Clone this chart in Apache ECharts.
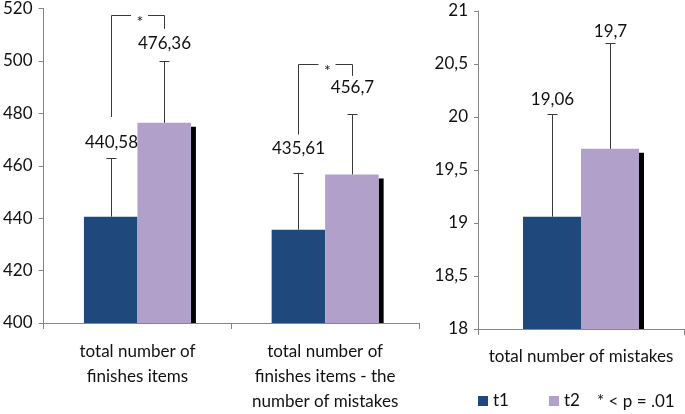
<!DOCTYPE html>
<html>
<head>
<meta charset="utf-8">
<script src="https://cdn.jsdelivr.net/npm/echarts@6/dist/echarts.min.js"></script>
<style>
html,body{margin:0;padding:0;background:#fff;}
#chart{width:685px;height:414px;}
</style>
</head>
<body>
<div id="chart"></div>
<script>
// ---------- data ----------
const categoriesLeft = ['total number of\nfinishes items', 'total number of\nfinishes items - the\nnumber of mistakes'];
const t1Left = [440.58, 435.61];
const t2Left = [476.36, 456.7];
const t1LeftErr = [22.3, 21.5];
const t2LeftErr = [23.7, 23.0];
const bracketTopLeft = [517.5, 498.9];
const bracketT1EndLeft = [478.6, 471.9];
const bracketT2EndLeft = [512.2, 494.3];

const categoriesRight = ['total number of mistakes'];
const t1Right = [19.06];
const t2Right = [19.7];
const t1RightErr = [0.97];
const t2RightErr = [1.0];

const leftTicks = [400, 420, 440, 460, 480, 500, 520];
const rightTicks = [18, 18.5, 19, 19.5, 20, 20.5, 21];
const seriesNames = ['t1', 't2'];
const noteText = '* < p = .01';

// ---------- styles ----------
const FONT = 'Lato, "Open Sans", sans-serif';
const FS = 17;
const C1 = '#1F497D';
const C2 = '#B1A0C9';
const AX = '#868686';
const BW_L = 53.5, BW_R = 58;
const labelGapLeft = [[16, 17], [25, 27]];
const labelGapRight = [[14, 11]];

const fmt = v => String(v).replace('.', ',');
const px = v => Math.round(v) + 0.5;

function errRender(barW) {
  return function (params, api) {
    const idx = api.value(0), mean = api.value(1), err = api.value(2), side = api.value(3), gap = api.value(4);
    const base = api.coord([idx, mean]);
    const top = api.coord([idx, mean + err]);
    const x = px(base[0] + side * barW / 2);
    const yt = px(top[1]);
    return {
      type: 'group',
      children: [
        {type: 'line', shape: {x1: x, y1: base[1], x2: x, y2: yt}, style: {stroke: '#3a3a3a', lineWidth: 1}},
        {type: 'line', shape: {x1: x - 5, y1: yt, x2: x + 5, y2: yt}, style: {stroke: '#3a3a3a', lineWidth: 1}},
        {type: 'text', x: x, y: top[1] - gap, style: {text: fmt(mean), fill: '#111', fontSize: FS, fontFamily: FONT, align: 'center', verticalAlign: 'middle'}}
      ]
    };
  };
}
function shadowRender(barW, yMin) {
  return function (params, api) {
    const idx = api.value(0), val = api.value(1);
    const p = api.coord([idx, val]);
    const b = api.coord([idx, yMin]);
    return {type: 'rect', shape: {x: p[0] + barW, y: p[1] + 4, width: 5, height: b[1] - p[1] - 4}, style: {fill: '#000'}};
  };
}
function bracketRender(barW) {
  return function (params, api) {
    const idx = api.value(0);
    const c = api.coord([idx, api.value(1)]);
    const xL = px(c[0] - barW / 2), xR = px(c[0] + barW / 2);
    const yT = px(c[1]);
    const yL = api.coord([idx, api.value(2)])[1];
    const yR = api.coord([idx, api.value(3)])[1];
    const mid = (xL + xR) / 2 + 2;
    const st = {stroke: '#3a3a3a', lineWidth: 1, fill: null};
    return {
      type: 'group',
      children: [
        {type: 'polyline', shape: {points: [[xL, yL], [xL, yT], [mid - 9, yT]]}, style: st},
        {type: 'polyline', shape: {points: [[mid + 8, yT], [xR, yT], [xR, yR]]}, style: st},
        {type: 'text', x: mid, y: yT + 6, style: {text: '*', fill: '#111', fontSize: 16, fontFamily: FONT, align: 'center', verticalAlign: 'middle'}}
      ]
    };
  };
}

function errData(cats, means, errs, side, gaps) {
  return cats.map((c, i) => [i, means[i], errs[i], side, gaps[i][side < 0 ? 0 : 1]]);
}

const axisText = {color: '#111', fontSize: FS, fontFamily: FONT};

const option = {
  animation: false,
  backgroundColor: '#fff',
  legend: {
    data: seriesNames,
    left: 478, top: 390, padding: 0,
    icon: 'rect', itemWidth: 10, itemHeight: 10, itemGap: 40,
    textStyle: {color: '#111', fontSize: FS, fontFamily: FONT, lineHeight: 22}
  },
  graphic: [{type: 'text', left: 597, top: 393, style: {text: noteText, fill: '#111', fontSize: FS, fontFamily: FONT}}],
  grid: [
    {left: 43, top: 6, width: 376, height: 322},
    {left: 478, top: 11, width: 206, height: 318}
  ],
  xAxis: [
    {gridIndex: 0, type: 'category', data: categoriesLeft,
     axisLine: {lineStyle: {color: AX}}, axisTick: {show: true, length: 6, lineStyle: {color: AX}},
     axisLabel: Object.assign({margin: 16, lineHeight: 25, interval: 0}, axisText)},
    {gridIndex: 1, type: 'category', data: categoriesRight,
     axisLine: {lineStyle: {color: AX}}, axisTick: {show: true, length: 6, lineStyle: {color: AX}},
     axisLabel: Object.assign({margin: 15, lineHeight: 25, interval: 0}, axisText)}
  ],
  yAxis: [
    {gridIndex: 0, type: 'value', min: leftTicks[0], max: leftTicks[leftTicks.length - 1], interval: leftTicks[1] - leftTicks[0],
     axisLine: {show: true, lineStyle: {color: AX}}, axisTick: {show: true, length: 5, lineStyle: {color: AX}},
     splitLine: {show: false}, axisLabel: Object.assign({margin: 11, formatter: v => fmt(v)}, axisText)},
    {gridIndex: 1, type: 'value', min: rightTicks[0], max: rightTicks[rightTicks.length - 1], interval: rightTicks[1] - rightTicks[0],
     axisLine: {show: true, lineStyle: {color: AX}}, axisTick: {show: true, length: 4, lineStyle: {color: AX}},
     splitLine: {show: false}, axisLabel: Object.assign({margin: 10, formatter: v => fmt(v)}, axisText)}
  ],
  series: [
    {name: 't1', type: 'bar', xAxisIndex: 0, yAxisIndex: 0, data: t1Left, barWidth: BW_L, barGap: '0%', itemStyle: {color: C1}},
    {name: 't2', type: 'bar', xAxisIndex: 0, yAxisIndex: 0, data: t2Left, barWidth: BW_L, barGap: '0%', itemStyle: {color: C2}},
    {name: 't1', type: 'bar', xAxisIndex: 1, yAxisIndex: 1, data: t1Right, barWidth: BW_R, barGap: '0%', itemStyle: {color: C1}},
    {name: 't2', type: 'bar', xAxisIndex: 1, yAxisIndex: 1, data: t2Right, barWidth: BW_R, barGap: '0%', itemStyle: {color: C2}},
    {type: 'custom', xAxisIndex: 0, yAxisIndex: 0, renderItem: shadowRender(BW_L, leftTicks[0]),
     data: categoriesLeft.map((c, i) => [i, t2Left[i]]), z: 1, silent: true},
    {type: 'custom', xAxisIndex: 1, yAxisIndex: 1, renderItem: shadowRender(BW_R, rightTicks[0]),
     data: categoriesRight.map((c, i) => [i, t2Right[i]]), z: 1, silent: true},
    {type: 'custom', xAxisIndex: 0, yAxisIndex: 0, renderItem: errRender(BW_L), z: 3, silent: true,
     data: errData(categoriesLeft, t1Left, t1LeftErr, -1, labelGapLeft).concat(errData(categoriesLeft, t2Left, t2LeftErr, 1, labelGapLeft))},
    {type: 'custom', xAxisIndex: 1, yAxisIndex: 1, renderItem: errRender(BW_R), z: 3, silent: true,
     data: errData(categoriesRight, t1Right, t1RightErr, -1, labelGapRight).concat(errData(categoriesRight, t2Right, t2RightErr, 1, labelGapRight))},
    {type: 'custom', xAxisIndex: 0, yAxisIndex: 0, renderItem: bracketRender(BW_L), z: 3, silent: true,
     data: categoriesLeft.map((c, i) => [i, bracketTopLeft[i], bracketT1EndLeft[i], bracketT2EndLeft[i]])}
  ]
};

const chart = echarts.init(document.getElementById('chart'), null, {renderer: 'canvas'});
chart.setOption(option);
</script>
</body>
</html>
